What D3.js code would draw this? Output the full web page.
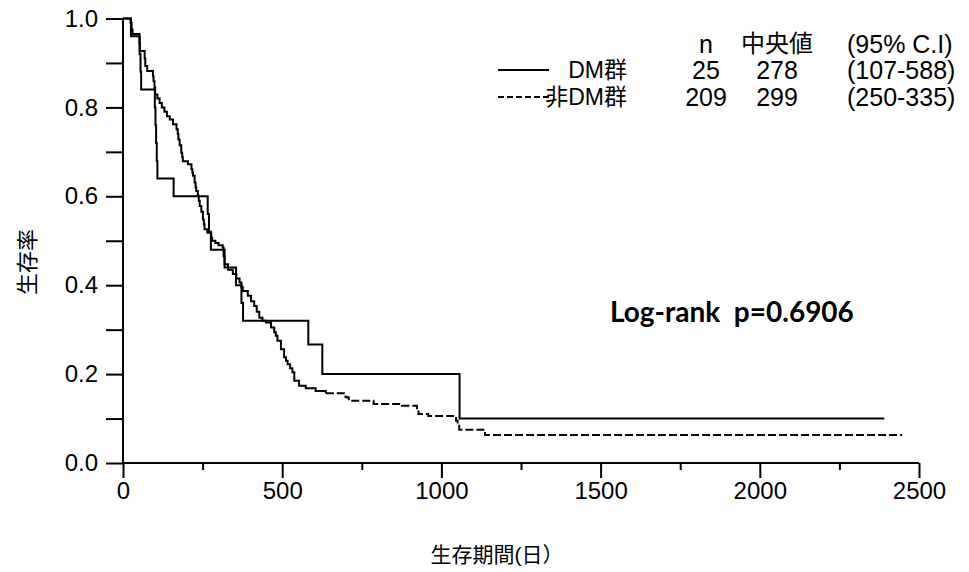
<!DOCTYPE html>
<html><head><meta charset="utf-8">
<script src="https://cdn.jsdelivr.net/npm/d3@7/dist/d3.min.js"></script>
<style>body{margin:0;background:#fff}svg{display:block}</style>
</head><body><svg id="c" width="969" height="572"></svg>
<script>
// DM群 (n=25): step times (days) and survival after each step
const dmDays = [0, 25, 52, 55, 57, 100, 102, 104, 106, 108, 159, 266, 270, 276, 319, 355, 372, 377, 582, 626, 1057];
const dmSurv = [1.0, 0.96, 0.92, 0.88, 0.84, 0.80, 0.76, 0.72, 0.68, 0.64, 0.60, 0.56, 0.52, 0.48, 0.44, 0.40, 0.36, 0.32, 0.2667, 0.20, 0.10];
const dmEnd = 2391;
// 非DM群 (n=209)
const ndmDays = [0, 24, 27, 30, 52, 53, 68, 70, 76, 94, 96, 99, 101, 108, 115, 122, 130, 138, 147, 157, 168, 172, 174, 178, 183, 186, 188, 204, 215, 218, 220, 225, 228, 230, 235, 238, 241, 246, 251, 254, 256, 265, 277, 280, 290, 300, 313, 316, 319, 330, 345, 356, 366, 372, 376, 392, 402, 412, 420, 428, 438, 449, 465, 475, 480, 485, 496, 506, 512, 517, 525, 532, 538, 553, 574, 605, 637, 699, 709, 787, 866, 876, 923, 928, 959, 1046, 1051, 1056, 1137];
const ndmSurv = [1.0, 0.99, 0.975, 0.965, 0.945, 0.927, 0.91, 0.893, 0.882, 0.870, 0.859, 0.845, 0.829, 0.82, 0.81, 0.80, 0.79, 0.78, 0.773, 0.762, 0.751, 0.74, 0.728, 0.715, 0.698, 0.688, 0.679, 0.672, 0.661, 0.653, 0.646, 0.631, 0.62, 0.612, 0.601, 0.59, 0.578, 0.565, 0.548, 0.537, 0.526, 0.518, 0.507, 0.50, 0.495, 0.49, 0.485, 0.465, 0.447, 0.435, 0.425, 0.415, 0.406, 0.396, 0.387, 0.376, 0.364, 0.353, 0.34, 0.327, 0.320, 0.316, 0.305, 0.294, 0.286, 0.275, 0.256, 0.238, 0.23, 0.222, 0.213, 0.204, 0.185, 0.174, 0.168, 0.162, 0.157, 0.148, 0.140, 0.133, 0.133, 0.129, 0.118, 0.110, 0.106, 0.095, 0.084, 0.075, 0.063];
const ndmEnd = 2447;
// the steep early part of the 非DM群 curve prints as a continuous line; dashes show from here on
const ndmDashFrom = 637;

const xTicks = [0, 500, 1000, 1500, 2000, 2500];
const xMinorTicks = [250, 750, 1250, 1750, 2250];
const yTicks = [0.0, 0.2, 0.4, 0.6, 0.8, 1.0];
const yMinorTicks = [0.1, 0.3, 0.5, 0.7, 0.9];

const legendHeader = ["n", "中央値", "(95% C.I)"];
const groupNames = ["DM群", "非DM群"];
const groupN = [25, 209];
const groupMedian = [278, 299];
const groupCI = ["(107-588)", "(250-335)"];
const logRankText = "Log-rank  p=0.6906";
const xTitle = "生存期間(日）";
const yTitle = "生存率";

const svg = d3.select("#c");
const font = "'Liberation Sans', Arial, 'Noto Sans CJK JP', sans-serif";
const x = d3.scaleLinear().domain([0, 2500]).range([123, 919]);
const y = d3.scaleLinear().domain([0, 1]).range([463, 18.5]);

// axes
const gx = svg.append("g").attr("transform", `translate(0,${y(0)})`);
gx.call(d3.axisBottom(x).tickValues(xTicks).tickSize(15).tickFormat(d3.format("d")));
gx.append("g").call(d3.axisBottom(x).tickValues(xMinorTicks).tickSize(7).tickFormat(""))
  .select(".domain").remove();
gx.selectAll(".domain").attr("stroke-width", 2).attr("d", `M${x(0)},0H${x(2500)}`);
gx.selectAll(".tick line").attr("stroke-width", 2);
gx.selectAll(".tick text").attr("font-family", font).attr("font-size", 24).attr("fill", "#000").attr("y", 19);

const gy = svg.append("g").attr("transform", `translate(${x(0)},0)`);
gy.call(d3.axisLeft(y).tickValues(yTicks).tickSize(17).tickFormat(d3.format(".1f")));
gy.append("g").call(d3.axisLeft(y).tickValues(yMinorTicks).tickSize(17).tickFormat(""))
  .select(".domain").remove();
gy.selectAll(".domain").attr("stroke-width", 2).attr("d", `M0,${y(1)}V${y(0)}`);
gy.selectAll(".tick line").attr("stroke-width", 2);
gy.selectAll(".tick text").attr("font-family", font).attr("font-size", 24).attr("fill", "#000").attr("x", -25);

// curves
const line = d3.line().x(d => x(d[0])).y(d => y(d[1])).curve(d3.curveStepAfter);
const dmPts = dmDays.map((d, i) => [d, dmSurv[i]]).concat([[dmEnd, dmSurv[dmSurv.length - 1]]]);
const ndmPts = ndmDays.map((d, i) => [d, ndmSurv[i]]).concat([[ndmEnd, ndmSurv[ndmSurv.length - 1]]]);
const splitIdx = ndmPts.findIndex(p => p[0] >= ndmDashFrom);
svg.append("path").attr("d", line(ndmPts.slice(0, splitIdx + 1))).attr("fill", "none").attr("stroke", "#000")
  .attr("stroke-width", 2);
svg.append("path").attr("d", line(ndmPts.slice(splitIdx))).attr("fill", "none").attr("stroke", "#000")
  .attr("stroke-width", 2).attr("stroke-dasharray", "8,3");
svg.append("path").attr("d", line(dmPts)).attr("fill", "none").attr("stroke", "#000")
  .attr("stroke-width", 2);

// legend
const colN = 706, colMed = 777, colCI = 847, colName = 627;
const rowY = [44, 70, 97];
const lg = svg.append("g").attr("font-family", font).attr("font-size", 25).attr("fill", "#000");
const addText = (xx, yy, anchor, txt, size) => lg.append("text").attr("x", xx).attr("y", yy).attr("dy", "0.35em")
  .attr("text-anchor", anchor).attr("font-size", size).text(txt);
addText(colN, rowY[0], "middle", legendHeader[0], 25);
addText(colMed, rowY[0], "middle", legendHeader[1], 24);
addText(colCI, rowY[0], "start", legendHeader[2], 25);
groupNames.forEach((g, i) => {
  const ry = rowY[i + 1];
  lg.append("line").attr("x1", 498).attr("x2", 549).attr("y1", ry).attr("y2", ry)
    .attr("stroke", "#000").attr("stroke-width", 2).attr("stroke-dasharray", i === 1 ? "6,3" : null);
  addText(colName, ry, "end", g, 23);
  addText(colN, ry, "middle", groupN[i], 25);
  addText(colMed, ry, "middle", groupMedian[i], 25);
  addText(colCI, ry, "start", groupCI[i], 25);
});

// log-rank
svg.append("text").attr("x", 610).attr("y", 312).attr("dy", "0.35em")
  .attr("font-family", "Lato, 'Open Sans', sans-serif").attr("font-weight", "bold").attr("font-size", 28)
  .style("white-space", "pre").attr("fill", "#000").text(logRankText);

// axis titles
svg.append("text").attr("transform", "translate(27,262) rotate(-90)").attr("dy", "0.35em")
  .attr("text-anchor", "middle").attr("font-family", font).attr("font-size", 22).attr("fill", "#000").text(yTitle);
svg.append("text").attr("x", 497).attr("y", 555).attr("dy", "0.35em")
  .attr("text-anchor", "middle").attr("font-family", font).attr("font-size", 21).attr("fill", "#000").text(xTitle);
</script></body></html>
